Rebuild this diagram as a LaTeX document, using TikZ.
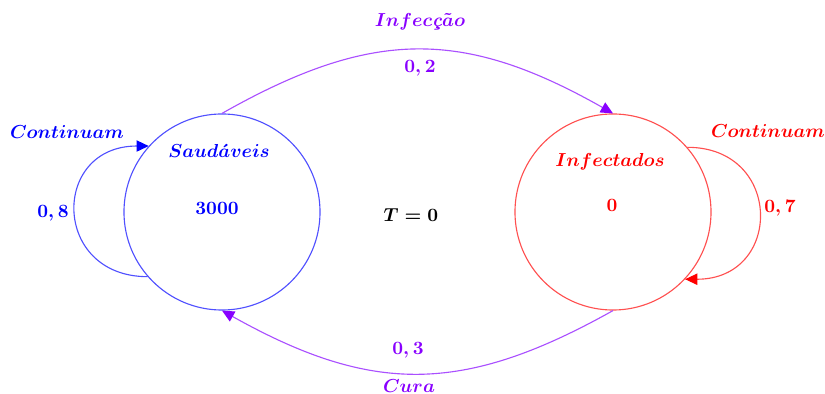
\documentclass[tikz,border=0pt]{standalone}
\usepackage{amsmath}
\usetikzlibrary{arrows.meta}
\definecolor{pur}{RGB}{136,0,255}
\definecolor{purl}{RGB}{170,80,255}
\definecolor{bl}{RGB}{0,0,255}
\definecolor{bll}{RGB}{80,80,255}
\definecolor{rd}{RGB}{255,0,0}
\definecolor{rdl}{RGB}{255,80,80}
\begin{document}
\begin{tikzpicture}[x=0.532pt,y=-0.532pt,
  state/.style={circle,draw,line width=0.6pt,inner sep=0pt,minimum size=104.3pt},
  lbl/.style={inner sep=0pt,font=\boldmath},
  tr/.style={line width=0.6pt},
  tip/.style={-{Triangle[length=6.5pt,width=6pt,color=#1]}}]
\useasboundingbox (0,0) rectangle (825,394);
\node[state,draw=bll] (S) at (222,212) {};
\node[state,draw=rdl] (I) at (613,212) {};
% labels
\node[lbl,text=bl] (sname) at (219,151) {$Saud\acute{a}veis$};
\node[lbl,text=bl] (sval) at (217,208) {$3000$};
\node[lbl,text=rd] (iname) at (610,162) {$Infectados$};
\node[lbl,text=rd] (ival) at (612,205) {$0$};
\node[lbl] (t) at (411,215) {$T=0$};
\node[lbl,text=bl] (sc) at (67,132) {$Continuam$};
\node[lbl,text=bl] (sp) at (53,213) {$0,8$};
\node[lbl,text=rd] (ic) at (768,131) {$Continuam$};
\node[lbl,text=rd] (ip) at (780,208) {$0,7$};
\node[lbl,text=pur] (inf) at (420,22) {$Infec\text{\bfseries\itshape ç}\tilde{a}o$};
\node[lbl,text=pur] (infp) at (420,68) {$0,2$};
\node[lbl,text=pur] (cp) at (408,350) {$0,3$};
\node[lbl,text=pur] (cura) at (409,386) {$Cura$};
% transitions
\draw[tr,draw=purl,tip=pur] (S.90) .. controls +(150,-85) and +(-150,-85) .. (I.90);
\draw[tr,draw=purl,tip=pur] (I.270) .. controls +(-150,84) and +(150,84) .. (S.270);
\draw[tr,draw=bll,tip=bl] (S.221) .. controls +(-96,0) and +(-98,0) .. (S.138);
\draw[tr,draw=rdl,tip=rd] (I.41) .. controls +(96,0) and +(98,0) .. (I.-43);
\end{tikzpicture}
\end{document}
